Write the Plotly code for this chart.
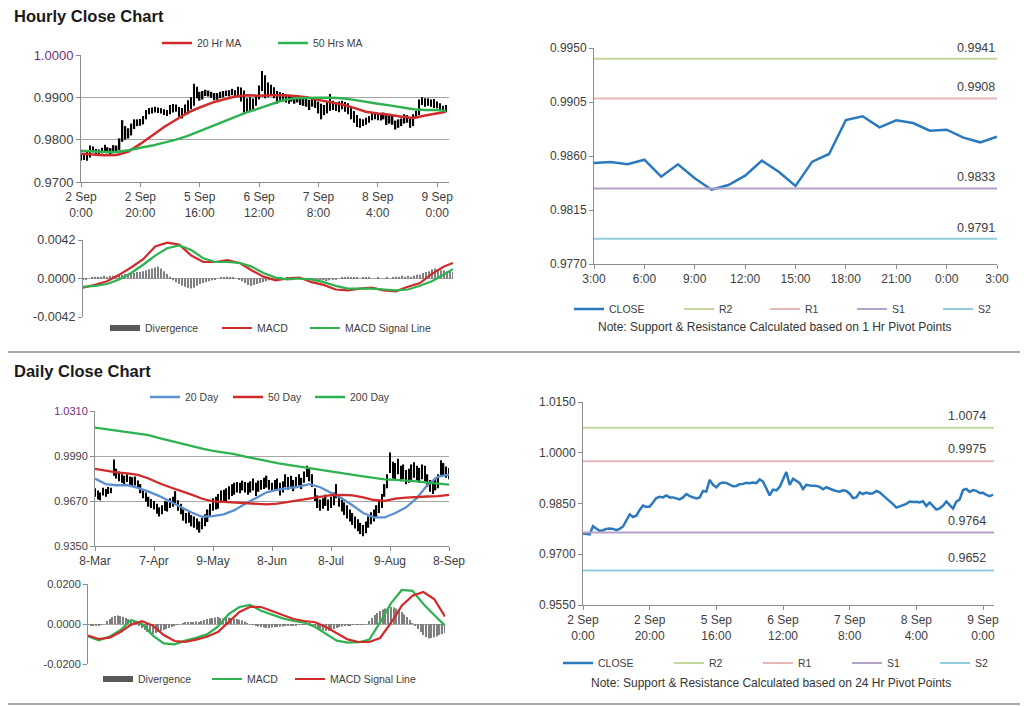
import plotly.graph_objects as go

W, H = 1024, 706

# ======================= DATA =======================
# ---- hourly (2 Sep 0:00 .. 9 Sep 3:00, 124 hourly points) ----
hourly_tick_idx = [0, 20, 40, 60, 80, 100, 120]
hourly_tick_text = ["2 Sep<br>0:00", "2 Sep<br>20:00", "5 Sep<br>16:00", "6 Sep<br>12:00",
                    "7 Sep<br>8:00", "8 Sep<br>4:00", "9 Sep<br>0:00"]

hourly_close = [
    0.9761, 0.9760, 0.9759, 0.9783, 0.9775, 0.9769, 0.9771, 0.9775, 0.9776, 0.9775,
    0.9771, 0.9775, 0.9782, 0.9799, 0.9818, 0.9810, 0.9814, 0.9831, 0.9844, 0.9840,
    0.9841, 0.9853, 0.9866, 0.9870, 0.9868, 0.9874, 0.9868, 0.9868, 0.9865, 0.9862,
    0.9868, 0.9878, 0.9872, 0.9868, 0.9865, 0.9868, 0.9887, 0.9885, 0.9920, 0.9905,
    0.9898, 0.9909, 0.9912, 0.9911, 0.9907, 0.9901, 0.9902, 0.9907, 0.9908, 0.9911,
    0.9910, 0.9912, 0.9910, 0.9921, 0.9915, 0.9895, 0.9874, 0.9891, 0.9889, 0.9899,
    0.9923, 0.9943, 0.9905, 0.9923, 0.9917, 0.9910, 0.9893, 0.9905, 0.9903, 0.9903,
    0.9902, 0.9899, 0.9892, 0.9898, 0.9893, 0.9890, 0.9887, 0.9885, 0.9889, 0.9887,
    0.9879, 0.9866, 0.9868, 0.9883, 0.9878, 0.9882, 0.9879, 0.9880, 0.9887, 0.9883,
    0.9874, 0.9866, 0.9856, 0.9848, 0.9838, 0.9841, 0.9846, 0.9849, 0.9856,
    0.98542, 0.98550, 0.98531, 0.98569, 0.98428, 0.98531, 0.98414, 0.98319, 0.98358, 0.98436,
    0.98561, 0.98469, 0.98350, 0.98553, 0.98617, 0.98900, 0.98931, 0.98839, 0.98897, 0.98875,
    0.98811, 0.98819, 0.98753, 0.98714, 0.98761]

hourly_high = [
    0.9768, 0.9766, 0.9771, 0.9786, 0.9784, 0.9778, 0.9777, 0.9781, 0.9788, 0.9782,
    0.9780, 0.9787, 0.9786, 0.9803, 0.9846, 0.9832, 0.9827, 0.9838, 0.9848, 0.9848,
    0.9849, 0.9856, 0.9870, 0.9875, 0.9876, 0.9878, 0.9876, 0.9874, 0.9872, 0.9870,
    0.9882, 0.9884, 0.9883, 0.9877, 0.9875, 0.9883, 0.9893, 0.9900, 0.9932, 0.9925,
    0.9913, 0.9915, 0.9918, 0.9916, 0.9913, 0.9910, 0.9910, 0.9913, 0.9915, 0.9916,
    0.9917, 0.9920, 0.9917, 0.9925, 0.9923, 0.9916, 0.9898, 0.9900, 0.9897, 0.9905,
    0.9928, 0.9962, 0.9952, 0.9935, 0.9930, 0.9924, 0.9915, 0.9912, 0.9910, 0.9908,
    0.9906, 0.9905, 0.9903, 0.9905, 0.9900, 0.9898, 0.9896, 0.9894, 0.9897, 0.9895,
    0.9890, 0.9885, 0.9882, 0.9890, 0.9908, 0.9892, 0.9888, 0.9890, 0.9892, 0.9889,
    0.9886, 0.9876, 0.9868, 0.9858, 0.9850, 0.9848, 0.9852, 0.9856, 0.9862, 0.9865,
    0.9862, 0.9860, 0.9864, 0.9860, 0.9858, 0.9856, 0.9845, 0.9848, 0.9850, 0.9860,
    0.9858, 0.9850, 0.9860, 0.9868, 0.9895, 0.9900, 0.9898, 0.9897, 0.9895, 0.9896,
    0.9890, 0.9886, 0.9880, 0.9882]

hourly_low = [
    0.9751, 0.9752, 0.9750, 0.9758, 0.9770, 0.9765, 0.9765, 0.9768, 0.9769, 0.9768,
    0.9765, 0.9768, 0.9770, 0.9775, 0.9795, 0.9800, 0.9803, 0.9810, 0.9825, 0.9832,
    0.9833, 0.9836, 0.9848, 0.9860, 0.9862, 0.9864, 0.9863, 0.9862, 0.9858, 0.9856,
    0.9860, 0.9864, 0.9866, 0.9854, 0.9850, 0.9858, 0.9860, 0.9872, 0.9880, 0.9898,
    0.9892, 0.9895, 0.9903, 0.9902, 0.9899, 0.9893, 0.9894, 0.9898, 0.9900, 0.9903,
    0.9902, 0.9905, 0.9902, 0.9905, 0.9890, 0.9862, 0.9864, 0.9868, 0.9872, 0.9880,
    0.9895, 0.9915, 0.9898, 0.9900, 0.9905, 0.9898, 0.9885, 0.9890, 0.9890, 0.9888,
    0.9885, 0.9890, 0.9885, 0.9888, 0.9882, 0.9880, 0.9878, 0.9870, 0.9878, 0.9875,
    0.9862, 0.9848, 0.9858, 0.9862, 0.9868, 0.9870, 0.9868, 0.9865, 0.9872, 0.9866,
    0.9860, 0.9848, 0.9840, 0.9830, 0.9828, 0.9832, 0.9835, 0.9840, 0.9846, 0.9848,
    0.9846, 0.9845, 0.9848, 0.9835, 0.9838, 0.9835, 0.9824, 0.9828, 0.9832, 0.9838,
    0.9840, 0.9828, 0.9832, 0.9850, 0.9858, 0.9882, 0.9878, 0.9880, 0.9878, 0.9875,
    0.9874, 0.9868, 0.9865, 0.9866]

hourly_ma_idx = list(range(0, 121, 4)) + [123]
ma20_hourly = [0.9767, 0.9765, 0.9763, 0.9764, 0.9772, 0.9790, 0.9810, 0.9830, 0.9847, 0.9864,
               0.9876, 0.9887, 0.9895, 0.9902, 0.9905, 0.9904, 0.9905, 0.9905, 0.9903, 0.9900,
               0.9894, 0.9888, 0.9883, 0.9875, 0.9866, 0.9862, 0.9859, 0.9854, 0.9851, 0.9857,
               0.9863, 0.9866]
ma50_hourly = [0.9774, 0.9772, 0.9771, 0.9771, 0.9775, 0.9781, 0.9786, 0.9793, 0.9800, 0.9809,
               0.9820, 0.9832, 0.9843, 0.9854, 0.9865, 0.9874, 0.9884, 0.9893, 0.9898, 0.9899,
               0.9899, 0.9899, 0.9898, 0.9894, 0.9889, 0.9885, 0.9881, 0.9877, 0.9872, 0.9870,
               0.9870, 0.9868]
macd_hourly = [-0.0010, -0.0007, -0.0003, 0.0004, 0.0012, 0.0021, 0.0035, 0.0039, 0.0037, 0.0025,
               0.0018, 0.0018, 0.0020, 0.0017, 0.0009, 0.0002, -0.0002, 0.0000, 0.0001, -0.0004,
               -0.0007, -0.0012, -0.0013, -0.0011, -0.0010, -0.0013, -0.0014, -0.0009, -0.0005, 0.0005,
               0.0013, 0.0017]
signal_hourly = [-0.0009, -0.0008, -0.0006, -0.0001, 0.0006, 0.0015, 0.0025, 0.0033, 0.0036, 0.0031,
                 0.0022, 0.0018, 0.0018, 0.0017, 0.0013, 0.0006, 0.0001, -0.0001, 0.0000, -0.0001,
                 -0.0004, -0.0008, -0.0011, -0.0011, -0.0011, -0.0012, -0.0013, -0.0012, -0.0008, -0.0003,
                 0.0004, 0.0010]
divergence_hourly = [
    -0.0001, -0.0001, 0.0000, 0.0001,
    0.0002, 0.0002, 0.0002, 0.0003, 0.0002, 0.0003,
    0.0003, 0.0003, 0.0004, 0.0004, 0.0005,
    0.0005, 0.0006, 0.0006, 0.0007, 0.0007,
    0.0008, 0.0009, 0.0010, 0.0011, 0.0012,
    0.0013, 0.0011, 0.0008, 0.0005, 0.0002,
    -0.0002, -0.0004, -0.0006, -0.0008, -0.0009,
    -0.0010, -0.0011, -0.0010, -0.0008, -0.0006,
    -0.0005, -0.0004, -0.0003, -0.0002, -0.0001,
    0.0000, 0.0001, 0.0001, 0.0002, 0.0001,
    0.0001, 0.0000, -0.0001, -0.0003, -0.0005,
    -0.0007, -0.0008, -0.0007, -0.0006, -0.0005,
    -0.0004, -0.0003, -0.0002, -0.0001, 0.0000,
    0.0001, 0.0001, 0.0000, 0.0001, 0.0001,
    0.0002, 0.0001, 0.0000, -0.0001, -0.0001,
    -0.0002, -0.0002, -0.0003, -0.0003, -0.0002,
    -0.0002, -0.0003, -0.0002, -0.0001, -0.0001,
    0.0000, 0.0001, 0.0001, 0.0002, 0.0001,
    0.0001, 0.0001, 0.0000, 0.0001, 0.0001,
    0.0001, 0.0000, 0.0000, 0.0001, 0.0000,
    0.0000, 0.0001, 0.0000, 0.0001, 0.0002,
    0.0002, 0.0003, 0.0002, 0.0003, 0.0002,
    0.0003, 0.0004, 0.0004, 0.0006, 0.0007,
    0.0008, 0.0010, 0.0011, 0.0010, 0.0009,
    0.0009, 0.0008, 0.0008, 0.0007]

# ---- last 24 hours (8 Sep 3:00 .. 9 Sep 3:00) ----
last24_tick_text = ["3:00", "6:00", "9:00", "12:00", "15:00", "18:00", "21:00", "0:00", "3:00"]
pivot_names = ["R2", "R1", "S1", "S2"]
pivots_1hr = [0.9941, 0.9908, 0.9833, 0.9791]
pivots_24hr = [1.0074, 0.9975, 0.9764, 0.9652]

# ---- daily (8-Mar .. 8-Sep, 133 trading days) ----
daily_tick_idx = [0, 22, 44, 66, 88, 110, 132]
daily_tick_text = ["8-Mar", "7-Apr", "9-May", "8-Jun", "8-Jul", "9-Aug", "8-Sep"]
daily_high = [
    0.9760, 0.9745, 0.9730, 0.9765, 0.9755, 0.9770, 0.9765, 0.9965, 0.9900, 0.9880,
    0.9860, 0.9850, 0.9860, 0.9845, 0.9840, 0.9845, 0.9815, 0.9790, 0.9755, 0.9730,
    0.9700, 0.9685, 0.9670, 0.9650, 0.9625, 0.9640, 0.9670, 0.9665, 0.9690, 0.9700,
    0.9740, 0.9675, 0.9650, 0.9610, 0.9585, 0.9600, 0.9570, 0.9560, 0.9545, 0.9525,
    0.9550, 0.9575, 0.9610, 0.9650, 0.9690, 0.9700, 0.9720, 0.9745, 0.9750, 0.9760,
    0.9775, 0.9790, 0.9800, 0.9805, 0.9800, 0.9815, 0.9805, 0.9800, 0.9810, 0.9830,
    0.9800, 0.9815, 0.9820, 0.9835, 0.9850, 0.9820, 0.9800, 0.9820, 0.9830, 0.9800,
    0.9810, 0.9860, 0.9840, 0.9850, 0.9820, 0.9840, 0.9860, 0.9835, 0.9880, 0.9920,
    0.9905, 0.9860, 0.9760, 0.9710, 0.9680, 0.9690, 0.9715, 0.9680, 0.9700, 0.9730,
    0.9790, 0.9720, 0.9680, 0.9660, 0.9640, 0.9610, 0.9585, 0.9560, 0.9540, 0.9515,
    0.9500, 0.9525, 0.9560, 0.9590, 0.9610, 0.9640, 0.9670, 0.9720, 0.9790, 0.9860,
    1.0015, 0.9950, 0.9940, 0.9970, 0.9920, 0.9930, 0.9890, 0.9900, 0.9930, 0.9945,
    0.9920, 0.9905, 0.9930, 0.9920, 0.9860, 0.9820, 0.9810, 0.9835, 0.9860, 0.9960,
    0.9940, 0.9915, 0.9905]
daily_low = [
    0.9700, 0.9680, 0.9675, 0.9710, 0.9700, 0.9720, 0.9725, 0.9850, 0.9830, 0.9810,
    0.9800, 0.9790, 0.9805, 0.9785, 0.9775, 0.9780, 0.9755, 0.9725, 0.9690, 0.9665,
    0.9630, 0.9620, 0.9610, 0.9580, 0.9560, 0.9575, 0.9600, 0.9595, 0.9620, 0.9630,
    0.9650, 0.9600, 0.9575, 0.9530, 0.9510, 0.9515, 0.9490, 0.9480, 0.9465, 0.9445,
    0.9470, 0.9490, 0.9520, 0.9560, 0.9600, 0.9610, 0.9615, 0.9660, 0.9655, 0.9670,
    0.9680, 0.9705, 0.9715, 0.9730, 0.9725, 0.9745, 0.9730, 0.9715, 0.9730, 0.9745,
    0.9705, 0.9735, 0.9750, 0.9755, 0.9765, 0.9750, 0.9735, 0.9745, 0.9755, 0.9710,
    0.9730, 0.9770, 0.9750, 0.9770, 0.9740, 0.9760, 0.9780, 0.9755, 0.9800, 0.9840,
    0.9810, 0.9770, 0.9670, 0.9620, 0.9600, 0.9615, 0.9635, 0.9600, 0.9620, 0.9640,
    0.9690, 0.9630, 0.9595, 0.9570, 0.9545, 0.9525, 0.9500, 0.9475, 0.9455, 0.9435,
    0.9420, 0.9440, 0.9480, 0.9505, 0.9525, 0.9550, 0.9585, 0.9620, 0.9700, 0.9760,
    0.9870, 0.9830, 0.9820, 0.9860, 0.9810, 0.9825, 0.9790, 0.9800, 0.9820, 0.9835,
    0.9815, 0.9800, 0.9825, 0.9810, 0.9770, 0.9735, 0.9720, 0.9745, 0.9760, 0.9840,
    0.9850, 0.9835, 0.9825]

daily_ma_idx = list(range(0, 133, 4))
ma20_daily = [0.9829, 0.9790, 0.9782, 0.9782, 0.9763, 0.9737, 0.9705, 0.9665, 0.9626, 0.9588,
              0.9558, 0.9562, 0.9575, 0.9605, 0.9650, 0.9690, 0.9732, 0.9750, 0.9762, 0.9772,
              0.9790, 0.9768, 0.9728, 0.9690, 0.9640, 0.9585, 0.9553, 0.9553, 0.9585, 0.9625,
              0.9690, 0.9785, 0.9843, 0.9857]
ma50_daily = [0.9898, 0.9885, 0.9874, 0.9866, 0.9855, 0.9830, 0.9796, 0.9768, 0.9743, 0.9715,
              0.9686, 0.9668, 0.9664, 0.9659, 0.9652, 0.9648, 0.9646, 0.9652, 0.9664, 0.9677,
              0.9689, 0.9702, 0.9711, 0.9714, 0.9710, 0.9696, 0.9677, 0.9671, 0.9687, 0.9694,
              0.9700, 0.9702, 0.9705, 0.9714]
ma200_daily = [1.0192, 1.0181, 1.0171, 1.0160, 1.0150, 1.0139, 1.0117, 1.0097, 1.0077, 1.0060,
               1.0042, 1.0027, 1.0017, 1.0004, 0.9986, 0.9970, 0.9953, 0.9940, 0.9927, 0.9915,
               0.9903, 0.9890, 0.9877, 0.9866, 0.9855, 0.9845, 0.9835, 0.9824, 0.9820, 0.9817,
               0.9810, 0.9800, 0.9793, 0.9787]
macd_daily = [-0.0061, -0.0082, -0.0063, -0.0030, 0.0020, 0.0000, -0.0058, -0.0097, -0.0102, -0.0083,
              -0.0069, -0.0052, -0.0013, 0.0050, 0.0085, 0.0096, 0.0066, 0.0045, 0.0028, 0.0015,
              0.0007, -0.0015, -0.0050, -0.0083, -0.0093, -0.0091, -0.0078, 0.0008, 0.0103, 0.0170,
              0.0166, 0.0100, 0.0045, -0.0008]
signal_daily = [-0.0058, -0.0075, -0.0068, -0.0040, -0.0003, 0.0014, -0.0008, -0.0055, -0.0085, -0.0089,
                -0.0078, -0.0064, -0.0040, 0.0008, 0.0060, 0.0086, 0.0085, 0.0065, 0.0045, 0.0025,
                0.0015, 0.0009, -0.0015, -0.0045, -0.0077, -0.0090, -0.0090, -0.0070, 0.0005, 0.0091,
                0.0141, 0.0160, 0.0125, 0.0037]
divergence_daily = [
    -0.0005, -0.0008, -0.0010, -0.0008, -0.0006, -0.0004, 0.0000,
    0.0015, 0.0025, 0.0035, 0.0040, 0.0042, 0.0040,
    0.0036, 0.0030, 0.0025, 0.0020, 0.0013, 0.0005,
    -0.0008, -0.0020, -0.0030, -0.0040, -0.0048, -0.0050,
    -0.0045, -0.0040, -0.0035, -0.0030, -0.0025, -0.0020, -0.0015,
    -0.0010, -0.0005, 0.0000, 0.0005, 0.0008, 0.0010,
    0.0008, 0.0010, 0.0012, 0.0010, 0.0015, 0.0020, 0.0025, 0.0028,
    0.0030, 0.0033, 0.0035, 0.0030, 0.0028, 0.0030, 0.0032,
    0.0030, 0.0028, 0.0025, 0.0022, 0.0018, 0.0012, 0.0005, 0.0000,
    -0.0005, -0.0010, -0.0012, -0.0015, -0.0018, -0.0020, -0.0020, -0.0018, -0.0016, -0.0015,
    -0.0014, -0.0012, -0.0010, -0.0009, -0.0008, -0.0007, -0.0006, -0.0005, -0.0004, -0.0002,
    0.0000, 0.0001, -0.0005, -0.0012, -0.0020, -0.0028,
    -0.0033, -0.0035, -0.0034, -0.0030, -0.0025, -0.0020, -0.0015,
    -0.0012, -0.0010, -0.0008, -0.0006, -0.0004, -0.0003, -0.0002, -0.0004, -0.0003, 0.0000,
    0.0015, 0.0030, 0.0045, 0.0055, 0.0065, 0.0072, 0.0078, 0.0082, 0.0085, 0.0083,
    0.0078, 0.0070, 0.0060, 0.0048, 0.0035, 0.0020, 0.0005, -0.0010,
    -0.0025, -0.0040, -0.0055, -0.0065, -0.0072, -0.0070, -0.0068, -0.0062, -0.0055, -0.0050, -0.0045]

# tick values
hourly_price_ticks = [0.9700, 0.9800, 0.9900, 1.0000]
hourly_macd_ticks = [-0.0042, 0.0000, 0.0042]
last24_price_ticks = [0.9770, 0.9815, 0.9860, 0.9905, 0.9950]
daily_price_ticks = [0.9350, 0.9670, 0.9990, 1.0310]
daily_macd_ticks = [-0.0200, 0.0000, 0.0200]
pivot24_price_ticks = [0.9550, 0.9700, 0.9850, 1.0000, 1.0150]

# ======================= STYLE / LAYOUT =======================
FONT = "Liberation Sans, Arial, sans-serif"
TXT = "#404040"
GRID = "#A6A6A6"
AXIS = "#8C8C8C"
TOP_LBL = "#6E2C83"
RED = "#D02A2A"
GREEN = "#2DB24F"
BLUE_MA = "#5B8FD0"
CLOSE_BLUE = "#2A79BE"
PIVOT_COLORS = ["#C4D79B", "#E6B8B7", "#B3A2C7", "#92CDDC"]
HIST = "#7F7F7F"
LEG_DX = 5

# panel pixel boxes: (left, right, top, bottom)
PA = (81, 449, 55, 182)
PB = (83, 453, 240, 317)
PC = (594, 997, 48, 264)
PD = (95, 449, 411, 546)
PE = (88, 445, 584, 664)
PF = (583, 994, 402, 605)
F_XMAX = 123.3


def dx(b):
    return [b[0] / W, b[1] / W]


def dy(b):
    return [1 - b[3] / H, 1 - b[2] / H]


fig = go.Figure()
legends = {}
leg_count = [0]


def leg(px, py, fs=10.5):
    leg_count[0] += 1
    key = "legend" if leg_count[0] == 1 else f"legend{leg_count[0]}"
    legends[key] = dict(x=(px - LEG_DX) / W, y=1 - py / H, xanchor="left", yanchor="middle",
                        orientation="h", bgcolor="rgba(0,0,0,0)", borderwidth=0,
                        font=dict(size=fs, color=TXT, family=FONT), itemwidth=30,
                        tracegroupgap=0)
    return key


def fmt_ticks(vals, top_color=None):
    out = [f"{v:.4f}" for v in vals]
    if top_color:
        out[-1] = f"<span style='color:{top_color}'>{out[-1]}</span>"
    return out


# ---------- Panel A: hourly price ----------
h_idx = list(range(len(hourly_close)))
fig.add_trace(go.Bar(x=h_idx, y=[hh - ll for hh, ll in zip(hourly_high, hourly_low)], base=hourly_low,
                     width=0.5, marker=dict(color="black", line=dict(width=0)),
                     xaxis="x", yaxis="y", showlegend=False, hoverinfo="skip"))
fig.add_trace(go.Scatter(x=hourly_ma_idx, y=ma20_hourly, mode="lines", name="20 Hr MA",
                         line=dict(color=RED, width=2.5), xaxis="x", yaxis="y", legend=leg(162, 43)))
fig.add_trace(go.Scatter(x=hourly_ma_idx, y=ma50_hourly, mode="lines", name="50 Hrs MA",
                         line=dict(color=GREEN, width=2.5), xaxis="x", yaxis="y", legend=leg(278, 43)))

# ---------- Panel B: hourly MACD ----------
fig.add_trace(go.Bar(x=h_idx, y=divergence_hourly, width=0.45, marker=dict(color=HIST, line=dict(width=0)),
                     xaxis="x2", yaxis="y2", showlegend=False, hoverinfo="skip"))
fig.add_trace(go.Scatter(x=[None], y=[None], mode="lines", name="Divergence",
                         line=dict(color="#595959", width=6), xaxis="x2", yaxis="y2", legend=leg(110, 328)))
fig.add_trace(go.Scatter(x=hourly_ma_idx, y=macd_hourly, mode="lines", name="MACD",
                         line=dict(color=RED, width=2.2), xaxis="x2", yaxis="y2", legend=leg(222, 328)))
fig.add_trace(go.Scatter(x=hourly_ma_idx, y=signal_hourly, mode="lines", name="MACD Signal Line",
                         line=dict(color=GREEN, width=2.2), xaxis="x2", yaxis="y2", legend=leg(310, 328)))

# ---------- Panel C: last 24 hours with 1 Hr pivots ----------
last24 = hourly_close[-25:]
c_idx = list(range(len(last24)))
fig.add_trace(go.Scatter(x=c_idx, y=last24, mode="lines", name="CLOSE",
                         line=dict(color=CLOSE_BLUE, width=2.5), xaxis="x3", yaxis="y3",
                         legend=leg(574, 309)))
for nm, val, col, lx in zip(pivot_names, pivots_1hr, PIVOT_COLORS, [684, 770, 857, 943]):
    fig.add_trace(go.Scatter(x=[c_idx[0], c_idx[-1]], y=[val, val], mode="lines", name=nm,
                             line=dict(color=col, width=2), xaxis="x3", yaxis="y3",
                             legend=leg(lx, 309)))
    fig.add_annotation(x=c_idx[-1], y=val, xref="x3", yref="y3", text=f"{val:.4f}",
                       showarrow=False, xanchor="right", yanchor="bottom", yshift=2,
                       font=dict(size=12.5, color=TXT, family=FONT))

# ---------- Panel D: daily price ----------
d_idx = list(range(len(daily_high)))
fig.add_trace(go.Bar(x=d_idx, y=[hh - ll for hh, ll in zip(daily_high, daily_low)], base=daily_low,
                     width=0.5, marker=dict(color="black", line=dict(width=0)),
                     xaxis="x4", yaxis="y4", showlegend=False, hoverinfo="skip"))
fig.add_trace(go.Scatter(x=daily_ma_idx, y=ma20_daily, mode="lines", name="20 Day",
                         line=dict(color=BLUE_MA, width=2.3), xaxis="x4", yaxis="y4", legend=leg(150, 397)))
fig.add_trace(go.Scatter(x=daily_ma_idx, y=ma50_daily, mode="lines", name="50 Day",
                         line=dict(color=RED, width=2.3), xaxis="x4", yaxis="y4", legend=leg(233, 397)))
fig.add_trace(go.Scatter(x=daily_ma_idx, y=ma200_daily, mode="lines", name="200 Day",
                         line=dict(color=GREEN, width=2.3), xaxis="x4", yaxis="y4", legend=leg(315, 397)))

# ---------- Panel E: daily MACD ----------
fig.add_trace(go.Bar(x=d_idx, y=divergence_daily, width=0.45, marker=dict(color=HIST, line=dict(width=0)),
                     xaxis="x5", yaxis="y5", showlegend=False, hoverinfo="skip"))
fig.add_trace(go.Scatter(x=[None], y=[None], mode="lines", name="Divergence",
                         line=dict(color="#595959", width=6), xaxis="x5", yaxis="y5", legend=leg(103, 679)))
fig.add_trace(go.Scatter(x=daily_ma_idx, y=macd_daily, mode="lines", name="MACD",
                         line=dict(color=GREEN, width=2.2), xaxis="x5", yaxis="y5", legend=leg(212, 679)))
fig.add_trace(go.Scatter(x=daily_ma_idx, y=signal_daily, mode="lines", name="MACD Signal Line",
                         line=dict(color=RED, width=2.2), xaxis="x5", yaxis="y5", legend=leg(295, 679)))

# ---------- Panel F: hourly close with 24 Hr pivots ----------
fig.add_trace(go.Scatter(x=h_idx, y=hourly_close, mode="lines", name="CLOSE",
                         line=dict(color=CLOSE_BLUE, width=2.5), xaxis="x6", yaxis="y6",
                         legend=leg(563, 663)))
for nm, val, col, lx in zip(pivot_names, pivots_24hr, PIVOT_COLORS, [674, 763, 852, 940]):
    fig.add_trace(go.Scatter(x=[0, F_XMAX], y=[val, val], mode="lines", name=nm,
                             line=dict(color=col, width=2), xaxis="x6", yaxis="y6",
                             legend=leg(lx, 663)))
    fig.add_annotation(x=F_XMAX, y=val, xref="x6", yref="y6", text=f"{val:.4f}",
                       showarrow=False, xanchor="right", yanchor="bottom", yshift=3, xshift=-6,
                       font=dict(size=12.5, color=TXT, family=FONT))


# ---------- axes ----------
def xax(box, rng, anchor, tickvals=None, ticktext=None, labels=True, fs=12, line=True):
    return dict(domain=dx(box), range=rng, anchor=anchor, showgrid=False, zeroline=False,
                showline=line, linecolor=AXIS, linewidth=1,
                ticks="outside" if labels else "", ticklen=4, tickcolor=AXIS,
                tickmode="array" if tickvals is not None else "auto",
                tickvals=tickvals, ticktext=ticktext, showticklabels=labels, tickangle=0,
                tickfont=dict(size=fs, color=TXT, family=FONT), fixedrange=True)


def yax(box, rng, anchor, tickvals, ticktext, grid=True, fs=12, zero=False):
    return dict(domain=dy(box), range=rng, anchor=anchor, showgrid=grid, gridcolor=GRID, gridwidth=1,
                zeroline=zero, zerolinecolor=GRID, zerolinewidth=1,
                showline=True, linecolor=AXIS, linewidth=1, ticks="outside", ticklen=4, tickcolor=AXIS,
                tickmode="array", tickvals=tickvals, ticktext=ticktext,
                tickfont=dict(size=fs, color=TXT, family=FONT), fixedrange=True)


layout = dict(
    width=W, height=H, margin=dict(l=0, r=0, t=0, b=0, autoexpand=False),
    paper_bgcolor="white", plot_bgcolor="white", barmode="overlay",
    font=dict(family=FONT, color=TXT),
    xaxis=xax(PA, [0, 124], "y", hourly_tick_idx, hourly_tick_text),
    yaxis=yax(PA, [hourly_price_ticks[0], hourly_price_ticks[-1]], "x", hourly_price_ticks,
              fmt_ticks(hourly_price_ticks, TOP_LBL), fs=13),
    xaxis2=xax(PB, [0, 123], "y2", labels=False, line=False),
    yaxis2=yax(PB, [hourly_macd_ticks[0], hourly_macd_ticks[-1]], "x2", hourly_macd_ticks,
               fmt_ticks(hourly_macd_ticks), fs=12.5, zero=True),
    xaxis3=xax(PC, [0, 24], "y3", list(range(0, 25, 3)), last24_tick_text),
    yaxis3=yax(PC, [last24_price_ticks[0], last24_price_ticks[-1]], "x3", last24_price_ticks,
               fmt_ticks(last24_price_ticks), grid=False, fs=12),
    xaxis4=xax(PD, [0, 132], "y4", daily_tick_idx, daily_tick_text),
    yaxis4=yax(PD, [daily_price_ticks[0], daily_price_ticks[-1]], "x4", daily_price_ticks,
               fmt_ticks(daily_price_ticks, TOP_LBL), fs=11),
    xaxis5=xax(PE, [0, 132], "y5", labels=False, line=False),
    yaxis5=yax(PE, [daily_macd_ticks[0], daily_macd_ticks[-1]], "x5", daily_macd_ticks,
               fmt_ticks(daily_macd_ticks), fs=11, zero=True),
    xaxis6=xax(PF, [0, F_XMAX], "y6", hourly_tick_idx, hourly_tick_text),
    yaxis6=yax(PF, [pivot24_price_ticks[0], pivot24_price_ticks[-1]], "x6", pivot24_price_ticks,
               fmt_ticks(pivot24_price_ticks), grid=False, fs=12),
)
layout.update(legends)
fig.update_layout(**layout)

# titles, notes, separators
for txt, py in [("Hourly Close Chart", 16.5), ("Daily Close Chart", 371)]:
    fig.add_annotation(x=12 / W, y=1 - py / H, xref="paper", yref="paper", text=f"<b>{txt}</b>",
                       showarrow=False, xanchor="left", yanchor="middle",
                       font=dict(size=16.5, color="#1A1A1A", family=FONT))
for txt, px, py in [("Note: Support & Resistance Calculated based on 1 Hr Pivot Points", 775, 327),
                    ("Note: Support & Resistance Calculated based on 24 Hr Pivot Points", 771, 683)]:
    fig.add_annotation(x=px / W, y=1 - py / H, xref="paper", yref="paper", text=txt,
                       showarrow=False, xanchor="center", yanchor="middle",
                       font=dict(size=12, color="#333333", family=FONT))
for py in [352, 704]:
    fig.add_shape(type="line", xref="paper", yref="paper", x0=8 / W, x1=1020 / W,
                  y0=1 - py / H, y1=1 - py / H, line=dict(color="#8C8C8C", width=1.5))

fig.write_html("out.html", config={"displayModeBar": False},
               post_script="document.body.style.margin='0';")
